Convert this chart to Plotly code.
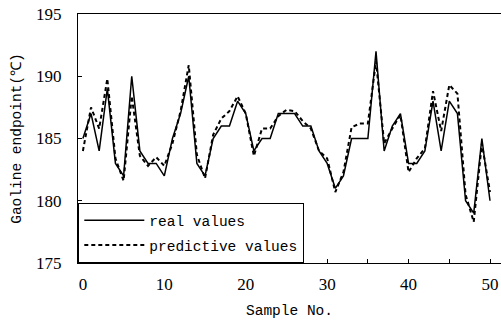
import plotly.graph_objects as go

sample_no = list(range(51))
real_values = [185, 187, 184, 189, 183, 182, 190, 184, 183, 183,
               182, 185, 187, 190, 183, 182, 185, 186, 186, 188,
               187, 184, 185, 185, 187, 187, 187, 186, 186, 184,
               183, 181, 182, 185, 185, 185, 192, 184, 186, 187,
               183, 183, 184, 188, 184, 188, 187, 180, 179, 185,
               180]
predictive_values = [184.0, 187.5, 185.8, 189.8, 183.4, 181.6, 188.4, 183.6, 182.8, 183.5,
                     182.8, 184.6, 187.2, 190.9, 183.7, 181.8, 185.3, 186.6, 187.2, 188.4,
                     187.0, 183.6, 185.8, 185.8, 186.8, 187.3, 187.2, 186.4, 185.8, 184.0,
                     183.4, 180.7, 182.3, 185.9, 186.2, 186.2, 191.2, 184.6, 185.8, 186.9,
                     182.3, 183.4, 184.2, 188.8, 185.6, 189.3, 188.6, 180.5, 178.3, 184.6,
                     180.7]

MONO = "Liberation Mono, DejaVu Sans Mono, monospace"
SERIF = "Liberation Serif, DejaVu Serif, serif"

fig = go.Figure()
fig.add_trace(go.Scatter(x=sample_no, y=real_values, mode="lines", name="real values",
                         legendgroup="a",
                         line=dict(color="black", width=1.5)))
fig.add_trace(go.Scatter(x=sample_no, y=predictive_values, mode="lines", name="predictive values",
                         legendgroup="b",
                         line=dict(color="black", width=2, dash="4px,3px")))

fig.update_layout(
    width=501, height=323,
    margin=dict(l=78, r=0, t=14, b=60),
    paper_bgcolor="white", plot_bgcolor="white",
    showlegend=True,
    legend=dict(x=0, y=0, xanchor="left", yanchor="bottom",
                bgcolor="white", bordercolor="black", borderwidth=1.3,
                font=dict(family=MONO, size=14.5, color="black"),
                itemwidth=60, tracegroupgap=3),
    xaxis=dict(range=[-0.6, 51.35], tickmode="linear", tick0=0, dtick=10,
               showgrid=False, zeroline=False,
               showline=True, linecolor="black", linewidth=1.3, mirror=True,
               ticks="inside", ticklen=4, tickcolor="black", ticklabelstandoff=5,
               minor=dict(dtick=5, tick0=0, ticks="inside", ticklen=4, tickcolor="black"),
               tickfont=dict(family=SERIF, size=17, color="black"),
               title=dict(text="Sample No.", font=dict(family=MONO, size=14.5, color="black"),
                          standoff=12)),
    yaxis=dict(range=[175, 195], tickmode="linear", tick0=175, dtick=5,
               showgrid=False, zeroline=False,
               showline=True, linecolor="black", linewidth=1.3,
               ticks="inside", ticklen=4, tickcolor="black", ticklabelstandoff=12,
               tickfont=dict(family=SERIF, size=17, color="black"),
               title=dict(text="Gaoline endpoint(℃)", font=dict(family=MONO, size=14.5, color="black"),
                          standoff=10)),
)

fig.write_html("out.html", config={"displayModeBar": False},
               post_script="document.body.style.margin='0';")
